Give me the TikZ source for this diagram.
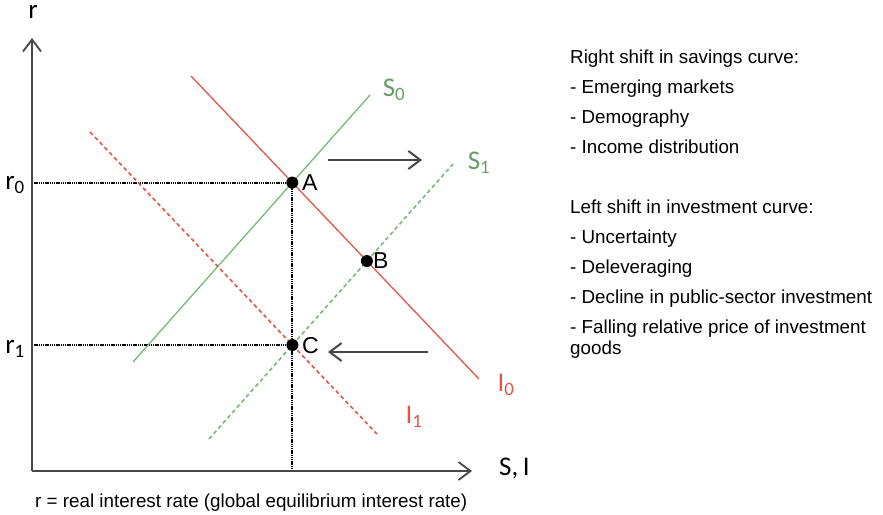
\documentclass[tikz,border=0pt]{standalone}
\usepackage{fontspec}
\setmainfont{Liberation Sans}
\newfontfamily\curvefont{Carlito}
\usetikzlibrary{arrows.meta}
\definecolor{savgreen}{RGB}{118,186,118}
\definecolor{invred}{RGB}{228,86,74}
\definecolor{axisgray}{RGB}{70,70,70}

\begin{document}
\begin{tikzpicture}[x=1pt,y=-1pt,>={Straight Barb[length=12pt,width=18pt]},
  axis/.style={line width=1.8pt,axisgray},
  guide/.style={line width=2pt,dash pattern=on 1.3pt off 0.9pt},
  shiftarrow/.style={line width=2pt,axisgray,->},
  curvelbl/.style={font=\curvefont\fontsize{27}{28}\selectfont,inner sep=0pt},
  pt/.style={circle,fill,inner sep=0pt,minimum size=12pt},
  ptlbl/.style={font=\fontsize{23}{24}\selectfont,anchor=west,inner sep=0pt},
  txt/.style={font=\fontsize{18.8}{21}\selectfont,align=left,anchor=north west,inner sep=0pt}]
  \useasboundingbox (0,0) rectangle (883,514);

  \coordinate (O) at (32,471);
  \coordinate (ytop) at (32,38);
  \coordinate (xend) at (472,471);
  \coordinate (S0a) at (133,362);
  \coordinate (S0b) at (370,95);
  \coordinate (S1a) at (209,439);
  \coordinate (S1b) at (453,164);
  \coordinate (I0a) at (191,76);
  \coordinate (I0b) at (479,379);
  \coordinate (I1a) at (90,132);
  \coordinate (I1b) at (377,434);
  \coordinate (A) at (intersection of S0a--S0b and I0a--I0b);
  \coordinate (B) at (intersection of S1a--S1b and I0a--I0b);
  \coordinate (C) at (intersection of S1a--S1b and I1a--I1b);

  \draw[guide] (O |- A) -- (A) -- (A |- O);
  \draw[guide] (O |- C) -- (C);

  \draw[savgreen,line width=1.3pt] (S0a) -- (S0b);
  \draw[savgreen,line width=1.6pt,dash pattern=on 4pt off 3pt] (S1a) -- (S1b);
  \draw[invred,line width=1.3pt] (I0a) -- (I0b);
  \draw[invred,line width=1.6pt,dash pattern=on 4pt off 3pt] (I1a) -- (I1b);

  \draw[axis,->] (O) -- (ytop);
  \draw[axis,->] (O) -- (xend);

  \node[pt] (pA) at (A) {};
  \node[pt] (pB) at (B) {};
  \node[pt] (pC) at (C) {};
  \node[ptlbl] (lA) at (302,183) {A};
  \node[ptlbl] (lB) at (373,261) {B};
  \node[ptlbl] (lC) at (302,346) {C};

  \coordinate (sr1) at (328,160);
  \coordinate (sr2) at (422,160);
  \coordinate (sl1) at (428,352);
  \coordinate (sl2) at (328,352);
  \draw[shiftarrow] (sr1) -- (sr2);
  \draw[shiftarrow] (sl1) -- (sl2);

  \node[curvelbl] (lr) at (33,12) {r};
  \node[curvelbl] (lr0) at (15,185) {r\textsubscript{0}};
  \node[curvelbl] (lr1) at (15,349) {r\textsubscript{1}};
  \node[curvelbl,anchor=west] (lSI) at (499,468) {S,\,I};
  \node[curvelbl,savgreen!85!black] (lS0) at (394,90) {S\textsubscript{0}};
  \node[curvelbl,savgreen!85!black] (lS1) at (479,163) {S\textsubscript{1}};
  \node[curvelbl,invred] (lI0) at (506,385) {I\textsubscript{0}};
  \node[curvelbl,invred] (lI1) at (414,417) {I\textsubscript{1}};

  \node[txt,anchor=base west] (cap) at (35,507) {r = real interest rate (global equilibrium interest rate)};

  \node[txt] (save) at (570,49.5) {Right shift in savings curve:\\[9pt]
    - Emerging markets\\[9pt]
    - Demography\\[9pt]
    - Income distribution};
  \node[txt] (invest) at (570,200) {Left shift in investment curve:\\[9pt]
    - Uncertainty\\[9pt]
    - Deleveraging\\[9pt]
    - Decline in public-sector investment\\[9pt]
    - Falling relative price of investment\\
    goods};
\end{tikzpicture}
\end{document}
